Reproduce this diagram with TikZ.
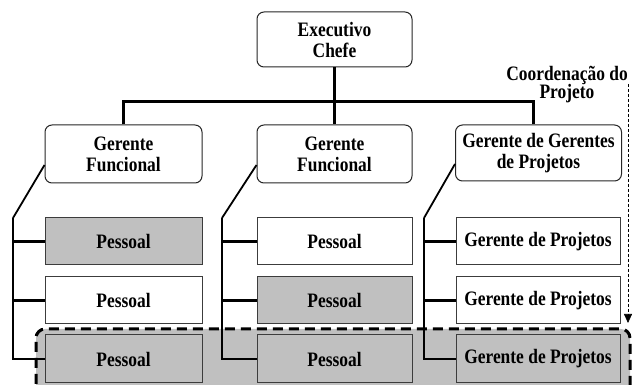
\documentclass[tikz,border=0pt]{standalone}
\usepackage{fontspec}
\setmainfont[FakeStretch=0.85]{Liberation Serif}
\usetikzlibrary{arrows.meta,calc}
\definecolor{boxgray}{RGB}{192,192,192}
\definecolor{edgegray}{RGB}{60,60,60}

\begin{document}
\begin{tikzpicture}[x=1pt,y=-1pt,
  txt/.style={font=\fontsize{20.5}{21}\selectfont\bfseries, align=center, text=black},
  mgr/.style={txt, draw=black!85, line width=1pt, rounded corners=7pt, fill=white, inner sep=0pt},
  staff/.style={txt, draw=edgegray, line width=1pt, fill=white, inner sep=0pt, minimum height=47pt},
  shaded/.style={fill=boxgray},
  bus/.style={line width=3pt},
  comb/.style={line width=2.4pt},
  slant/.style={line width=1.8pt},
  zoneline/.style={line width=3pt, dash pattern=on 10pt off 6pt, rounded corners=9pt},
  coordarrow/.style={line width=0.7pt, dash pattern=on 3pt off 2pt, -{Triangle[length=9pt,width=8pt]}},
]
\useasboundingbox (0,0) rectangle (633,385);

% shaded project-coordination band (bottom row)
\coordinate (zoneL) at (36,329);
\coordinate (zoneR) at (630,329);
\begin{scope}
  \clip (0,0) rectangle (633,385);
  \fill[boxgray, rounded corners=9pt] (36,400) -- (zoneL) -- (zoneR) -- (630,400) -- cycle;
\end{scope}

% top level
\node[mgr, minimum width=155pt, minimum height=55pt] (ceo) at (334.5,39.5) {Executivo\\Chefe};

% second level
\node[mgr, minimum width=157pt, minimum height=58pt] (gf1) at (123.5,154) {Gerente\\Funcional};
\node[mgr, minimum width=155pt, minimum height=58pt] (gf2) at (334.5,154) {Gerente\\Funcional};
\node[mgr, minimum width=166pt, minimum height=56pt] (gg)  at (538.5,153) {Gerente de Gerentes\\de Projetos};

% staff columns
\node[staff, shaded, minimum width=157pt] (p11) at (123.5,241.5) {Pessoal};
\node[staff,         minimum width=157pt] (p12) at (123.5,300.5) {Pessoal};
\node[staff, shaded, minimum width=157pt, minimum height=48pt] (p13) at (123.5,359) {Pessoal};

\node[staff,         minimum width=155pt] (p21) at (334.5,241.5) {Pessoal};
\node[staff, shaded, minimum width=155pt] (p22) at (334.5,300.5) {Pessoal};
\node[staff, shaded, minimum width=155pt, minimum height=48pt] (p23) at (334.5,359) {Pessoal};

\node[staff,         minimum width=164pt] (p31) at (538,241.5) {Gerente de Projetos};
\node[staff,         minimum width=164pt] (p32) at (538,300.5) {Gerente de Projetos};
\node[staff, shaded, minimum width=164pt, minimum height=48pt] (p33) at (538,359) {Gerente de Projetos};

% reporting bus
\coordinate (busL) at (123.5,102);
\coordinate (busR) at (533,102);
\draw[bus] (ceo.south) -- (gf2.north);
\draw[bus] (gf1.north) -- (busL) -- (busR) -- (busR |- gg.north);

% combs from each manager to its staff
\coordinate (k1) at (13,218);
\coordinate (k2) at (222,218);
\coordinate (k3) at (424,218);
\foreach \m/\k/\c in {gf1/k1/1, gf2/k2/2, gg/k3/3}{
  \draw[slant] ($(\m.west)+(0,11)$) -- (\k);
  \draw[comb] (\k) -- (\k |- p\c3.west) -- (p\c3.west);
  \draw[comb] (\k |- p\c1.west) -- (p\c1.west);
  \draw[comb] (\k |- p\c2.west) -- (p\c2.west);
}

% dashed outline of the band
\begin{scope}
  \clip (0,0) rectangle (633,385);
  \draw[zoneline] (36,400) -- (zoneL) -- (zoneR) -- (630,400);
\end{scope}

% coordination label and arrow
\node[txt, font=\fontsize{20.5}{18.5}\selectfont\bfseries, inner sep=0pt] (coord) at (567,84.5) {Coordenação do\\Projeto};
\coordinate (arrS) at (628,84);
\coordinate (arrE) at (628,323);
\draw[coordarrow] (arrS) -- (arrE);
\end{tikzpicture}
\end{document}
